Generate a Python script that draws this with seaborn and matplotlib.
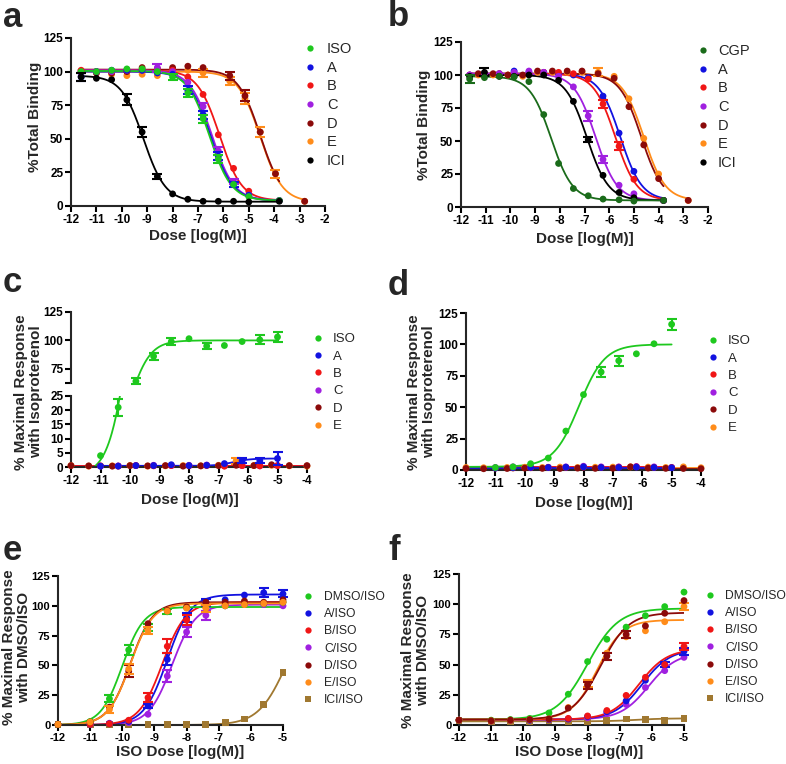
import numpy as np
import pandas as pd
import matplotlib
matplotlib.use('Agg')
import matplotlib.pyplot as plt
from matplotlib.lines import Line2D
import seaborn as sns

sns.set_theme(style='ticks')
plt.rcParams['font.family'] = ['Liberation Sans', 'DejaVu Sans']
plt.rcParams['axes.unicode_minus'] = False

# ---------------- colours ----------------
C_ISO = '#1ec81e'
C_A = '#1212e0'
C_B = '#f01616'
C_C = '#a020e0'
C_D = '#8b0a0a'
C_E = '#ff8c1a'
C_ICI = '#000000'
C_CGP = '#1a6b1a'
C_ICIISO = '#a07830'

# ---------------- panel a : binding ----------------
dose_a = [-11.6, -11.0, -10.4, -9.8, -9.2, -8.6, -8.0, -7.4, -6.8, -6.2, -5.6, -5.0, -3.8]
dose_a_de = [-11.6, -11.0, -10.4, -9.8, -9.2, -8.6, -8.0, -7.4, -6.8, -5.75, -5.15, -4.55, -3.95, -2.8]
a_iso = [100, 100, 101, 102, 102, 100, 96, 84, 65, 35, 16, 7, 4]
a_iso_err = [0, 0, 0, 0, 0, 0, 2, 3, 3, 3, 0, 0, 0]
a_A = [96, 100, 101, 101, 101, 99, 98, 86, 68, 37, 16, 8, 4]
a_A_err = [3, 0, 0, 0, 0, 0, 0, 3, 3, 3, 2, 0, 0]
a_B = [101, 100, 100, 101, 101, 102, 101, 96, 83, 53, 28, 11, 4]
a_B_err = [0] * 13
a_C = [99, 100, 100, 101, 101, 103, 100, 92, 74, 41, 18, 8, 4]
a_C_err = [0, 0, 0, 0, 0, 3, 0, 0, 3, 3, 2, 0, 0]
a_D = [100, 99, 99, 100, 103, 102, 103, 104, 103, 97, 82, 55, 24, 3.5]
a_D_err = [0, 0, 0, 0, 0, 0, 0, 0, 0, 3, 4, 0, 0, 0]
a_E = [99, 99, 98, 97, 98, 97, 101, 101, 99, 93, 80, 55, 24, 3.5]
a_E_err = [0, 0, 0, 0, 0, 0, 0, 0, 3, 3, 4, 4, 3, 0]
a_ICI = [96, 95, 94, 79, 55, 22, 9, 5, 3.5, 3.5, 3.5, 3, 3.5]
a_ICI_err = [3, 0, 0, 4, 4, 2, 0, 0, 0, 0, 0, 0, 0]
# fit parameters: bottom, top, logIC50, hill
fit_a_iso = [4, 100.5, -6.55, -1.0]
fit_a_A = [4, 100, -6.5, -1.0]
fit_a_B = [4, 101, -6.15, -1.0]
fit_a_C = [4, 101, -6.45, -1.0]
fit_a_D = [3.5, 101.5, -4.55, -1.0]
fit_a_E = [3, 100, -4.55, -1.0]
fit_a_ICI = [3.2, 97, -9.15, -1.0]

# ---------------- panel b : binding ----------------
dose_b = [-11.65, -11.05, -10.45, -9.85, -9.25, -8.65, -8.05, -7.45, -6.85, -6.25, -5.6, -5.0, -3.8]
dose_b_de = [-11.3, -10.7, -10.1, -9.5, -8.9, -8.3, -7.7, -7.1, -6.45, -5.8, -5.2, -4.6, -4.0, -2.8]
b_CGP = [97, 98, 99, 98.5, 95, 70, 33, 14, 8.5, 6, 5.5, 4.5, 5]
b_CGP_err = [3, 0, 0, 0, 0, 0, 0, 0, 0, 0, 0, 0, 0]
b_A = [100, 101, 101, 103, 102, 102, 101, 100, 98, 84, 56, 27, 5]
b_A_err = [0] * 13
b_B = [100, 101, 101, 101, 101, 102, 102, 101, 97, 78, 46, 21, 5]
b_B_err = [0, 0, 0, 0, 0, 0, 0, 0, 0, 3, 3, 0, 0]
b_C = [100, 101, 101, 102, 103, 102, 99, 91, 69, 36, 16.5, 10, 5]
b_C_err = [0, 0, 0, 0, 0, 0, 0, 0, 4, 3, 0, 0, 0]
b_D = [101, 101, 100, 100, 103, 103, 103, 103, 101, 97.5, 76, 47, 21.5, 5]
b_D_err = [0] * 14
b_E = [100, 100, 100, 99, 102, 102, 102, 102, 102, 99, 82, 52, 25, 5]
b_E_err = [0, 0, 0, 0, 0, 0, 0, 0, 3, 0, 0, 0, 0, 0]
b_ICI = [99, 102, 99, 99, 100, 100, 96, 80, 51, 24, 11, 7, 5]
b_ICI_err = [0, 3, 0, 0, 0, 0, 0, 0, 2, 0, 0, 0, 0]
fit_b_CGP = [5, 99, -8.35, -1.0]
fit_b_A = [5, 101, -5.55, -1.0]
fit_b_B = [5, 101, -5.75, -1.0]
fit_b_C = [5, 101, -6.55, -1.0]
fit_b_D = [5, 101, -4.7, -1.0]
fit_b_E = [5, 101, -4.6, -1.0]
fit_b_ICI = [5, 100, -6.9, -1.0]

# ---------------- panel c : response ----------------
dose_c = [-11.0, -10.4, -9.8, -9.2, -8.6, -8.0, -7.4, -6.8, -6.2, -5.6, -5.0]
dose_c_de = [-12.0, -11.4, -10.6, -10.0, -9.4, -8.8, -8.2, -7.6, -7.0, -6.4, -5.8, -5.2, -4.6, -4.0]
c_iso = [4, 21, 64, 86, 99, 101.5, 95, 95.5, 99, 100.5, 103]
c_iso_err = [0, 3, 2.5, 3, 3, 0, 3, 0, 0, 4, 4]
c_A = [0.3, 0.3, 0.5, 0.5, 0.8, 0.5, 0.6, 1.2, 2.2, 2.2, 3.0]
c_A_err = [0, 0, 0, 0, 0, 0, 0, 0, 0.8, 0.8, 2.2]
c_B = [0.4, 0.3, 0.5, 0.4, 0.5, 0.4, 0.5, 0.3, 0.5, 0.4, 0.5]
c_B_err = [0] * 11
c_C = [0.3, 0.4, 0.5, 0.6, 0.5, 0.6, 0.7, 0.4, 0.5, 0.4, 0.5]
c_C_err = [0] * 11
c_D = [0.5, 0.4, 0.3, 0.5, 0.4, 0.5, 0.3, 0.4, 0.5, 0.6, 0.5, 0.8, 0.5, 0.5]
c_D_err = [0] * 14
c_E = [0.5, 0.3, 0.4, 0.5, 0.3, 0.4, 0.5, 0.4, 0.6, 2.2, 0.5, 0.6, 0.4, 0.3]
c_E_err = [0, 0, 0, 0, 0, 0, 0, 0, 0, 1.0, 0, 0, 0, 0]
fit_c_iso = [-3, 100, -10.0, 1.25]
fit_c_A = [0.4, 3.0, -6.5, 1.5]
fit_c_B = [0.45, 0.45, -8.0, 1.0]
fit_c_C = [0.5, 0.5, -8.0, 1.0]
fit_c_D = [0.5, 0.5, -8.0, 1.0]
fit_c_E = [0.45, 0.45, -8.0, 1.0]

# ---------------- panel d : response ----------------
dose_d = [-11.0, -10.4, -9.8, -9.2, -8.6, -8.0, -7.4, -6.8, -6.2, -5.6, -5.0]
dose_d_de = [-12.0, -11.4, -10.6, -10.0, -9.4, -8.8, -8.2, -7.6, -7.0, -6.4, -5.8, -5.2, -4.6, -4.0]
d_iso = [2, 2.5, 5, 9.5, 31, 60, 78, 87, 92.5, 100.5, 116]
d_iso_err = [0, 0, 0, 0, 0, 0, 4, 4, 0, 0, 4.5]
d_A = [1.5, 1.8, 2, 2, 2.2, 2.5, 2, 2, 2.3, 2, 1.8]
d_B = [1.5, 1.6, 1.8, 2, 2, 2.3, 2, 2.2, 2.5, 2, 2]
d_C = [2, 2.5, 2.2, 2.2, 2.5, 3, 2.5, 2.5, 2.8, 2.5, 2]
d_D = [1.2, 1.0, 1.2, 1.5, 1.3, 1.2, 1.5, 1.3, 1.4, 2.5, 1.5, 1.3, 1.2, 1.0]
d_E = [2, 1.8, 2, 2.2, 2, 2.3, 2, 2.2, 2.3, 2.5, 2.3, 2, 2.5, 1.8]
fit_d_iso = [2.5, 100, -8.15, 1.0]
fit_d_A = [1.9, 1.9, -8.0, 1.0]
fit_d_B = [2.0, 2.0, -8.0, 1.0]
fit_d_C = [2.4, 2.4, -8.0, 1.0]
fit_d_D = [1.0, 1.0, -8.0, 1.0]
fit_d_E = [1.7, 1.7, -8.0, 1.0]

# ---------------- panel e : ISO response after pretreatment ----------------
dose_e = [-12.0, -11.0, -10.4, -9.8, -9.2, -8.6, -8.0, -7.4, -6.8, -6.2, -5.6, -5.0]
e_dmso = [0.5, 3, 22, 63, 82, 95, 98.5, 100, 100, 101, 102, 103]
e_dmso_err = [0, 0, 3, 4, 3, 2, 0, 0, 0, 0, 0, 0]
e_A = [0.5, 0.5, 1, 3, 16, 55, 90, 103, 105, 109, 111, 110]
e_A_err = [0, 0, 0, 0, 2, 5, 4, 3, 0, 0, 4, 3]
e_B = [0.5, 0.5, 1, 4, 23, 66, 88, 99, 101, 102, 102, 103]
e_B_err = [0, 0, 0, 0, 4, 6, 4, 0, 0, 0, 0, 0]
e_C = [0.5, 0.5, 1.5, 2, 9, 41, 78, 92, 100, 101, 101, 100]
e_C_err = [0, 0, 0, 0, 0, 5, 4, 4, 0, 0, 0, 0]
e_D = [0.5, 2.5, 15, 45, 85, 96, 99, 103, 103, 104, 103, 105]
e_D_err = [0, 0, 0, 5, 0, 0, 0, 0, 0, 0, 0, 0]
e_E = [0.5, 2.5, 13, 47, 79, 95.5, 98, 98, 100, 101, 102, 103]
e_E_err = [0, 0, 3, 4, 3, 0, 0, 3, 0, 0, 0, 0]
e_ICI = [0.5, 0.5, 0.5, 0.5, 0.5, 0.5, 0.5, 0.5, 2, 5, 17, 44]
e_ICI_err = [0] * 12
fit_e_dmso = [0, 99, -10.0, 1.3]
fit_e_A = [0, 109.5, -8.6, 1.2]
fit_e_B = [0, 103, -8.75, 1.2]
fit_e_C = [0, 101, -8.45, 1.2]
fit_e_D = [0, 103, -9.75, 1.25]
fit_e_E = [0, 102, -9.75, 1.25]
fit_e_ICI = [0, 100, -4.9, 1.0]

# ---------------- panel f ----------------
dose_f = [-12.0, -11.0, -10.4, -9.8, -9.2, -8.6, -8.0, -7.4, -6.8, -6.2, -5.6, -5.0]
f_dmso = [4, 4, 4.5, 5.5, 10, 25.5, 52.5, 71, 81, 90.5, 98, 110]
f_dmso_err = [0] * 12
f_A = [4, 3.5, 4, 4, 4.5, 5, 7, 11, 20, 37, 50, 61]
f_A_err = [0, 0, 0, 0, 0, 0, 0, 0, 0, 0, 2, 3]
f_B = [4, 3.5, 4, 4.5, 5, 5.5, 7.5, 12, 24.5, 39.5, 50, 65]
f_B_err = [0, 0, 0, 0, 0, 0, 0, 0, 0, 0, 0, 3]
f_C = [4, 3.5, 4, 4, 4.5, 5, 6, 10, 17, 31, 45, 56]
f_C_err = [0] * 12
f_D = [4, 3.5, 4, 4.5, 5, 14, 33, 57, 75, 82, 92.5, 103]
f_D_err = [0, 0, 0, 0, 0, 0, 3, 3, 3, 0, 0, 0]
f_E = [4, 3.5, 4, 4.5, 5, 14.5, 34.5, 59.5, 73, 78, 85.5, 98]
f_E_err = [0, 0, 0, 0, 0, 0, 3, 0, 0, 0, 0, 3]
f_ICI = [3.5, 3, 3, 3, 3.5, 3, 3, 3.5, 5, 4.5, 4, 5.5]
f_ICI_err = [0] * 12
fit_f_dmso = [4.5, 96.5, -8.0, 0.9]
fit_f_A = [4.5, 63, -6.3, 1.0]
fit_f_B = [4.5, 63, -6.4, 1.0]
fit_f_C = [4.5, 60, -6.1, 1.0]
fit_f_D = [4.5, 93, -7.6, 1.0]
fit_f_E = [4.5, 87, -7.7, 1.1]
fit_f_ICI = [3, 5.5, -6.5, 1.0]

labels_ab = ['ISO', 'A', 'B', 'C', 'D', 'E', 'ICI']
labels_b = ['CGP', 'A', 'B', 'C', 'D', 'E', 'ICI']
labels_cd = ['ISO', 'A', 'B', 'C', 'D', 'E']
labels_ef = ['DMSO/ISO', 'A/ISO', 'B/ISO', 'C/ISO', 'D/ISO', 'E/ISO', 'ICI/ISO']

# ---------------- drawing ----------------
W, H = 786, 764
fig = plt.figure(figsize=(W / 100, H / 100), dpi=100)
fig.patch.set_facecolor('white')

LABEL_FS = 11
PX_PER_PT = 100 / 72


def add_ax(x0, y0, x1, y1):
    return fig.add_axes([x0 / W, 1 - y1 / H, (x1 - x0) / W, (y1 - y0) / H])


def hill(x, p):
    b, t, e, h = p
    return b + (t - b) / (1 + 10 ** ((e - x) * h))


def series(ax, dose, vals, err, fit, color, xr, marker='o', vrange=None):
    xs = np.linspace(xr[0], xr[1], 400)
    sns.lineplot(x=xs, y=hill(xs, fit), color=color, lw=1.3, ax=ax,
                 legend=False, estimator=None, sort=False)
    d = np.asarray(dose, float)
    v = np.asarray(vals, float)
    e = np.asarray(err, float)
    keep = np.ones(len(d), bool)
    if vrange is not None:
        keep = (v >= vrange[0]) & (v <= vrange[1])
    df = pd.DataFrame({'x': d[keep], 'y': v[keep]})
    sns.scatterplot(data=df, x='x', y='y', color=color, marker=marker, s=24,
                    edgecolor='none', linewidth=0, ax=ax, clip_on=False,
                    zorder=4, legend=False)
    m = keep & (e > 0)
    if m.any():
        ax.errorbar(d[m], v[m], yerr=e[m], fmt='none', ecolor=color,
                    elinewidth=1.5, capsize=3.5, capthick=1.5, clip_on=False,
                    zorder=4)


def style(ax, xlim, xticks, ylim, yticks, show_x=True, extra_y=None, fs=8.5):
    ax.set_xlim(xlim)
    ax.set_ylim(ylim)
    ax.set_facecolor('none')
    sns.despine(ax=ax)
    ax.set_xlabel('')
    ax.set_ylabel('')
    ax.spines['left'].set_linewidth(1.5)
    ax.spines['bottom'].set_linewidth(1.5)
    ax.tick_params(axis='both', width=1.5, length=4, direction='out', pad=1.5,
                   labelsize=fs, color='black', labelcolor='black')
    yt = list(yticks)
    ylab = [str(t) for t in yticks]
    if extra_y is not None:
        yt = yt + [extra_y]
        ylab = ylab + ['']
    ax.set_yticks(yt)
    ax.set_yticklabels(ylab, fontweight='bold')
    if show_x:
        ax.set_xticks(xticks)
        ax.set_xticklabels([str(t) for t in xticks], fontweight='bold')
    else:
        ax.spines['bottom'].set_visible(False)
        ax.set_xticks([])


def legend(ax, labels, colors, markers, mx, tx, top, fs, spacing):
    hl = 0.8
    hpx = hl * fs * PX_PER_PT
    pad = (tx - (mx + hpx / 2)) / (fs * PX_PER_PT)
    handles = [Line2D([], [], ls='none', marker=m, color=c, markersize=4.5,
                      markeredgewidth=0) for c, m in zip(colors, markers)]
    ax.legend(handles, labels, loc='upper left',
              bbox_to_anchor=((mx - hpx / 2) / W, 1 - top / H),
              bbox_transform=fig.transFigure, frameon=False, fontsize=fs,
              handlelength=hl, handletextpad=pad, labelspacing=spacing,
              borderpad=0, borderaxespad=0)


def xlab(text, cx, top):
    fig.text(cx / W, 1 - top / H, text, ha='center', va='top',
             fontsize=LABEL_FS, fontweight='bold')


def ylab(text, right, cy):
    fig.text(right / W, 1 - cy / H, text, ha='right', va='center',
             rotation=90, fontsize=LABEL_FS, fontweight='bold',
             multialignment='center', linespacing=1.1)


def letter(t, x, y):
    fig.text(x / W, 1 - y / H, t, ha='left', va='baseline', fontsize=25,
             fontweight='bold')


# ----- panel a -----
ax = add_ax(71, 38, 325, 206)
full = (-11.7, -3.8)
series(ax, dose_a_de, a_E, a_E_err, fit_a_E, C_E, (-11.7, -2.8))
series(ax, dose_a_de, a_D, a_D_err, fit_a_D, C_D, full)
series(ax, dose_a, a_B, a_B_err, fit_a_B, C_B, full)
series(ax, dose_a, a_C, a_C_err, fit_a_C, C_C, full)
series(ax, dose_a, a_A, a_A_err, fit_a_A, C_A, full)
series(ax, dose_a, a_iso, a_iso_err, fit_a_iso, C_ISO, full)
series(ax, dose_a, a_ICI, a_ICI_err, fit_a_ICI, C_ICI, full)
style(ax, (-12, -2), list(range(-12, -1)), (0, 125), [0, 25, 50, 75, 100, 125])
legend(ax, labels_ab, [C_ISO, C_A, C_B, C_C, C_D, C_E, C_ICI], ['o'] * 7,
       310, 327, 42, 10.5, 0.32)
xlab('Dose [log(M)]', 198, 229)
ylab('%Total Binding', 42, 117)
letter('a', 3, 27)

# ----- panel b -----
ax = add_ax(461, 42, 708, 207)
series(ax, dose_b_de, b_E, b_E_err, fit_b_E, C_E, (-11.7, -2.8))
series(ax, dose_b_de, b_D, b_D_err, fit_b_D, C_D, full)
series(ax, dose_b, b_A, b_A_err, fit_b_A, C_A, full)
series(ax, dose_b, b_B, b_B_err, fit_b_B, C_B, full)
series(ax, dose_b, b_C, b_C_err, fit_b_C, C_C, full)
series(ax, dose_b, b_ICI, b_ICI_err, fit_b_ICI, C_ICI, full)
series(ax, dose_b, b_CGP, b_CGP_err, fit_b_CGP, C_CGP, full)
style(ax, (-12, -2), list(range(-12, -1)), (0, 125), [0, 25, 50, 75, 100, 125])
legend(ax, labels_b, [C_CGP, C_A, C_B, C_C, C_D, C_E, C_ICI], ['o'] * 7,
       703, 718, 44, 10.5, 0.32)
xlab('Dose [log(M)]', 585, 232)
ylab('%Total Binding', 431, 125)
letter('b', 388, 26)

# ----- panel c (broken y axis) -----
ax_up = add_ax(71, 312, 307, 383)
ax_lo = add_ax(71, 396, 307, 467)
c_sets = [
    (dose_c_de, c_E, c_E_err, fit_c_E, C_E, (-12, -4)),
    (dose_c_de, c_D, c_D_err, fit_c_D, C_D, (-12, -4)),
    (dose_c, c_C, c_C_err, fit_c_C, C_C, (-12, -4)),
    (dose_c, c_B, c_B_err, fit_c_B, C_B, (-12, -4)),
    (dose_c, c_A, c_A_err, fit_c_A, C_A, (-11, -5)),
    (dose_c, c_iso, c_iso_err, fit_c_iso, C_ISO, (-12, -5)),
]
for dse, v, er, ft, col, xr in c_sets:
    series(ax_lo, dse, v, er, ft, col, xr, vrange=(-1, 26))
series(ax_up, dose_c, c_iso, c_iso_err, fit_c_iso, C_ISO, (-12, -5), vrange=(62.5, 130))
style(ax_up, (-12, -4), [], (62.5, 125), [75, 100, 125], show_x=False, extra_y=62.5)
style(ax_lo, (-12, -4), list(range(-12, -3)), (0, 25), [0, 5, 10, 15, 20, 25])
legend(ax_lo, labels_cd, [C_ISO, C_A, C_B, C_C, C_D, C_E], ['o'] * 6,
       318, 333, 333, 9.5, 0.39)
xlab('Dose [log(M)]', 190, 493)
ylab('% Maximal Response\nwith Isoproterenol', 43, 392)
letter('c', 3, 292)

# ----- panel d -----
ax = add_ax(466, 313, 701, 470)
d_sets = [
    (dose_d_de, d_E, [0] * 14, fit_d_E, C_E, (-12, -4)),
    (dose_d_de, d_D, [0] * 14, fit_d_D, C_D, (-12, -4)),
    (dose_d, d_C, [0] * 11, fit_d_C, C_C, (-12, -5)),
    (dose_d, d_B, [0] * 11, fit_d_B, C_B, (-12, -5)),
    (dose_d, d_A, [0] * 11, fit_d_A, C_A, (-12, -5)),
    (dose_d, d_iso, d_iso_err, fit_d_iso, C_ISO, (-12, -5)),
]
for dse, v, er, ft, col, xr in d_sets:
    series(ax, dse, v, er, ft, col, xr)
style(ax, (-12, -4), list(range(-12, -3)), (0, 125), [0, 25, 50, 75, 100, 125])
legend(ax, labels_cd, [C_ISO, C_A, C_B, C_C, C_D, C_E], ['o'] * 6,
       713, 728, 335, 9.5, 0.39)
xlab('Dose [log(M)]', 584, 496)
ylab('% Maximal Response\nwith Isoproterenol', 436, 392)
letter('d', 388, 295)

# ----- panel e -----
ax = add_ax(58, 576, 283, 725)
e_sets = [
    (e_ICI, e_ICI_err, fit_e_ICI, C_ICIISO, 's'),
    (e_C, e_C_err, fit_e_C, C_C, 'o'),
    (e_A, e_A_err, fit_e_A, C_A, 'o'),
    (e_B, e_B_err, fit_e_B, C_B, 'o'),
    (e_dmso, e_dmso_err, fit_e_dmso, C_ISO, 'o'),
    (e_D, e_D_err, fit_e_D, C_D, 'o'),
    (e_E, e_E_err, fit_e_E, C_E, 'o'),
]
for v, er, ft, col, mk in e_sets:
    series(ax, dose_e, v, er, ft, col, (-12, -5), marker=mk)
style(ax, (-12, -5), list(range(-12, -4)), (0, 125), [0, 25, 50, 75, 100, 125], fs=8)
legend(ax, labels_ef, [C_ISO, C_A, C_B, C_C, C_D, C_E, C_ICIISO],
       ['o'] * 6 + ['s'], 308, 324, 591, 8.7, 0.43)
xlab('ISO Dose [log(M)]', 180, 745)
ylab('% Maximal Response\nwith DMSO/ISO', 31, 647)
letter('e', 3, 560)

# ----- panel f -----
ax = add_ax(459, 574, 684, 725)
f_sets = [
    (f_ICI, f_ICI_err, fit_f_ICI, C_ICIISO, 's'),
    (f_C, f_C_err, fit_f_C, C_C, 'o'),
    (f_A, f_A_err, fit_f_A, C_A, 'o'),
    (f_B, f_B_err, fit_f_B, C_B, 'o'),
    (f_dmso, f_dmso_err, fit_f_dmso, C_ISO, 'o'),
    (f_E, f_E_err, fit_f_E, C_E, 'o'),
    (f_D, f_D_err, fit_f_D, C_D, 'o'),
]
for v, er, ft, col, mk in f_sets:
    series(ax, dose_f, v, er, ft, col, (-12, -5), marker=mk)
style(ax, (-12, -5), list(range(-12, -4)), (0, 125), [0, 25, 50, 75, 100, 125], fs=8)
legend(ax, labels_ef, [C_ISO, C_A, C_B, C_C, C_D, C_E, C_ICIISO],
       ['o'] * 6 + ['s'], 710, 725, 590, 8.7, 0.43)
xlab('ISO Dose [log(M)]', 579, 745)
ylab('% Maximal Response\nwith DMSO/ISO', 430, 650)
letter('f', 388, 560)

fig.savefig('out.png', dpi=100, facecolor='white')
